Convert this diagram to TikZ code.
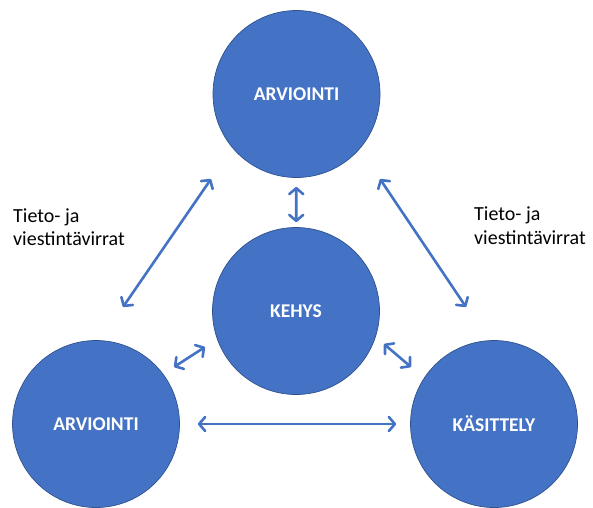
\documentclass[tikz,border=0pt]{standalone}
\usepackage{fontspec}
\setmainfont{Carlito}
\usetikzlibrary{arrows.meta}
\definecolor{blob}{HTML}{4472C4}
\definecolor{blobedge}{HTML}{2F528F}
\tikzset{barb/.tip={Straight Barb[length=6pt,width=14pt,round]}}
\begin{document}
\begin{tikzpicture}[x=1pt,y=-1pt,
  bubble/.style={circle, fill=blob, draw=blobedge, line width=0.7pt,
    minimum size=167pt, inner sep=0pt, text=white,
    font=\fontsize{19.5}{22}\selectfont\bfseries},
  flow/.style={draw=blob, line width=2.6pt, {barb}-{barb}},
  note/.style={anchor=north west, inner sep=0pt, align=left,
    font=\fontsize{20}{23.5}\selectfont}]
  \useasboundingbox (0,0) rectangle (593,507);

  % the four circles
  \node[bubble] (top) at (296.5,94)  {ARVIOINTI};
  \node[bubble] (mid) at (296,311)   {KEHYS};
  \node[bubble] (bl)  at (96,424)    {ARVIOINTI};
  \node[bubble] (br)  at (494,424)   {KÄSITTELY};

  % free ends of the slanted flows
  \coordinate (tl1) at (211,179);
  \coordinate (tl2) at (123,307);
  \coordinate (tr1) at (380,179);
  \coordinate (tr2) at (466,307);
  \coordinate (ml1) at (205,347);
  \coordinate (ml2) at (174,367);
  \coordinate (mr1) at (384,344);
  \coordinate (mr2) at (411,367);

  % flows between the circles
  \draw[flow, shorten <=9pt, shorten >=5pt] (top) -- (mid);
  \draw[flow, shorten <=18pt, shorten >=14pt] (bl) -- (br);
  \draw[flow] (tl1) -- (tl2);
  \draw[flow] (tr1) -- (tr2);
  \draw[flow] (ml1) -- (ml2);
  \draw[flow] (mr1) -- (mr2);

  % side labels
  \node[note] (lab1) at (13,208.5)  {Tieto- ja\\viestintävirrat};
  \node[note] (lab2) at (474,207) {Tieto- ja\\viestintävirrat};
\end{tikzpicture}
\end{document}
